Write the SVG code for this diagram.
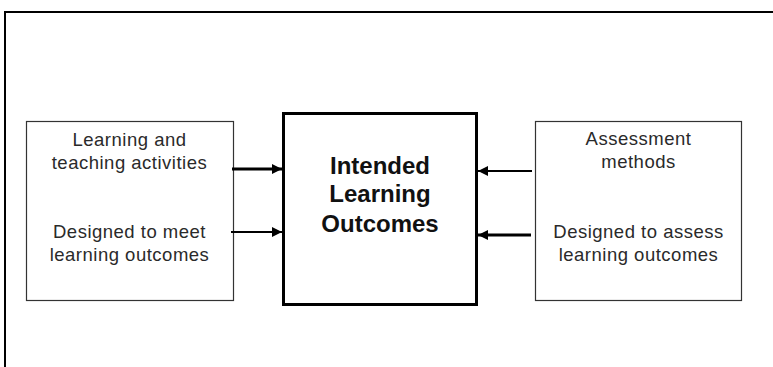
<svg xmlns="http://www.w3.org/2000/svg" width="773" height="367" viewBox="0 0 773 367">
  <style>
    .side { fill: #fff; stroke: #333; stroke-width: 1.2; }
    .core { fill: #fff; stroke: #000; stroke-width: 3; }
    .label { font-family: "Liberation Sans", Arial, sans-serif; font-size: 18.5px; letter-spacing: 0.5px; fill: #2a2a2a; text-anchor: middle; }
    .title { font-family: "Liberation Sans", Arial, sans-serif; font-size: 24px; font-weight: bold; fill: #111; text-anchor: middle; }
    .thick { stroke: #000; stroke-width: 3; fill: none; }
    .thin { stroke: #000; stroke-width: 2; fill: none; }
  </style>
  <defs>
    <marker id="head" viewBox="0 0 10 10" refX="10" refY="5" markerUnits="userSpaceOnUse" markerWidth="10" markerHeight="10" orient="auto">
      <path d="M0,0 L10,5 L0,10 z" fill="#000"/>
    </marker>
  </defs>

  <rect width="773" height="367" fill="#fff"/>
  <!-- outer frame -->
  <path d="M5,367 V12 H773" fill="none" stroke="#000" stroke-width="2"/>

  <g id="activities">
    <rect class="side" x="26.5" y="121.5" width="207" height="179"/>
    <text class="label" x="129.5" y="146">Learning and</text>
    <text class="label" x="129.5" y="169">teaching activities</text>
    <text class="label" x="129.5" y="238">Designed to meet</text>
    <text class="label" x="129.5" y="261">learning outcomes</text>
  </g>

  <g id="outcomes">
    <rect class="core" x="283.5" y="113.5" width="193" height="191"/>
    <text class="title" x="380" y="174">Intended</text>
    <text class="title" x="380" y="202">Learning</text>
    <text class="title" x="380" y="232">Outcomes</text>
  </g>

  <g id="assessment">
    <rect class="side" x="535.5" y="121.5" width="206" height="179"/>
    <text class="label" x="638.5" y="145">Assessment</text>
    <text class="label" x="638.5" y="168">methods</text>
    <text class="label" x="638.5" y="238">Designed to assess</text>
    <text class="label" x="638.5" y="261">learning outcomes</text>
  </g>

  <g id="connectors">
    <line class="thick" x1="232" y1="169" x2="282" y2="169" marker-end="url(#head)"/>
    <line class="thin" x1="231" y1="232" x2="282" y2="232" marker-end="url(#head)"/>
    <line class="thin" x1="532" y1="171" x2="478" y2="171" marker-end="url(#head)"/>
    <line class="thick" x1="531" y1="235" x2="478" y2="235" marker-end="url(#head)"/>
  </g>
</svg>
